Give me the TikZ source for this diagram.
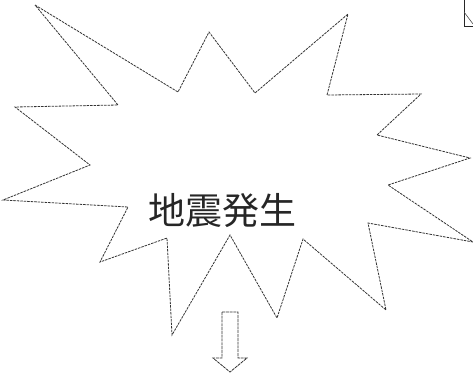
\documentclass[tikz,border=0pt]{standalone}
\usepackage{fontspec}
\newfontfamily\cjk{Noto Sans CJK JP}
\tikzset{
  burst/.style={draw=black!80, line width=0.8pt, dash pattern=on 2.5pt off 1pt, line join=miter},
  hollowarrow/.style={draw=black!80, line width=0.8pt, dash pattern=on 3pt off 0.8pt},
  label/.style={font=\cjk\fontsize{37}{42}\selectfont, text=black!85, inner sep=0pt}
}
\begin{document}
\begin{tikzpicture}[x=1pt,y=-1pt]
\useasboundingbox (0,0) rectangle (473,381);
% starburst
\draw[burst] (35,5) -- (178,92) -- (209,32) -- (255,93) -- (348,14) -- (327,95)
  -- (421,94) -- (377,135) -- (470,158) -- (388,185) -- (473,242) -- (368,223)
  -- (386,310) -- (303,239) -- (277,318) -- (230,235) -- (172,335) -- (167,238)
  -- (100,262) -- (128,207) -- (3,200) -- (90,165) -- (15,107) -- (118,105) -- cycle;
\node[label] (t) at (222,211) {地震発生};
% hollow down arrow
\draw[hollowarrow] (222,312) -- (238,312) -- (238,358) -- (247,358) -- (230,372)
  -- (213,358) -- (222,358) -- cycle;
% partial shape at top right corner
\draw[black!85, line width=1pt] (464,0) -- (464,26) -- (473,26);
\draw[black!70, line width=0.6pt] (464,12) -- (473,24);
\end{tikzpicture}
\end{document}
